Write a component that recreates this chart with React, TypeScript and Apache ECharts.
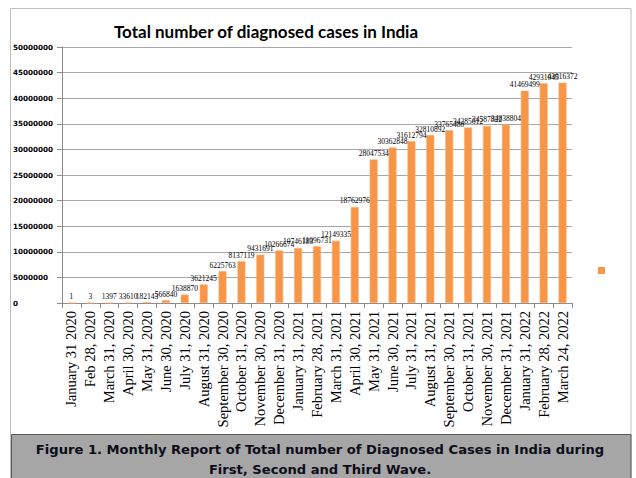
import React, { useEffect, useRef } from "react";
import * as echarts from "echarts";

const categories = [
  "January 31 2020", "Feb 28, 2020", "March 31, 2020", "April 30, 2020", "May 31, 2020",
  "June 30, 2020", "July 31, 2020", "August 31, 2020", "September 30, 2020", "October 31, 2020",
  "November 30, 2020", "December 31, 2020", "January 31, 2021", "February 28, 2021", "March 31, 2021",
  "April 30, 2021", "May 31, 2021", "June 30, 2021", "July 31, 2021", "August 31, 2021",
  "September 30, 2021", "October 31, 2021", "November 30, 2021", "December 31, 2021",
  "January 31, 2022", "February 28, 2022", "March 24, 2022",
];

const cases = [
  1, 3, 1397, 33610, 182143, 566840, 1638870, 3621245, 6225763, 8137119,
  9431691, 10266674, 10746183, 11096731, 12149335, 18762976, 28047534, 30362848,
  31612794, 32810892, 33765480, 34285612, 34587822, 34838804, 41469499, 42931045, 43016372,
];

const yMin = 0;
const yMax = 50000000;
const yStep = 5000000;

const titleText = "Total number of diagnosed cases in India";
const captionLines = [
  "Figure 1. Monthly Report of Total number of Diagnosed Cases in India during",
  "First, Second and Third Wave.",
];
const seriesName = "Total number of diagnosed cases";

export default function App() {
  const ref = useRef<HTMLDivElement>(null);
  useEffect(() => {
    if (!ref.current) return;
    const chart = echarts.init(ref.current, null, { renderer: "svg" });
    chart.setOption({
      animation: false,
      backgroundColor: "#ffffff",
      title: {
        text: titleText,
        left: 261,
        top: 18,
        textAlign: "center",
        textStyle: { fontFamily: "Lato", fontWeight: "bold", fontSize: 17, color: "#000" },
      },
      legend: {
        left: 593,
        top: 262,
        itemWidth: 7,
        itemHeight: 7,
        icon: "rect",
        itemGap: 0,
        formatter: () => " ",
        textStyle: { fontSize: 1 },
        itemStyle: { borderWidth: 0, color: "#f79646" },
        data: [seriesName],
      },
      grid: { left: 62, right: 64, top: 47, bottom: 175, containLabel: false },
      xAxis: {
        type: "category",
        data: categories,
        axisLine: { lineStyle: { color: "#8c8c8c", width: 1 } },
        axisTick: { show: true, length: 5, lineStyle: { color: "#8c8c8c" } },
        axisLabel: {
          rotate: 90,
          interval: 0,
          margin: 8,
          fontFamily: "Liberation Serif",
          fontSize: 14.5,
          color: "#000",
        },
      },
      yAxis: {
        type: "value",
        min: yMin,
        max: yMax,
        interval: yStep,
        axisLine: { show: true, lineStyle: { color: "#8c8c8c" } },
        axisTick: { show: true, length: 5, lineStyle: { color: "#8c8c8c" } },
        splitLine: { lineStyle: { color: "#a6a6a6", width: 1 } },
        axisLabel: {
          align: "left",
          margin: 49,
          fontFamily: "DejaVu Sans",
          fontWeight: "bold",
          fontSize: 7.2,
          color: "#000",
          formatter: (v: number) => String(v),
        },
      },
      series: [
        {
          name: seriesName,
          type: "bar",
          data: cases,
          barWidth: 8,
          itemStyle: { color: "#f79646", borderColor: "#fbb27a", borderWidth: 0.6 },
          label: {
            show: true,
            position: "top",
            distance: 2,
            fontFamily: "Liberation Serif",
            fontSize: 7.5,
            color: "#000",
          },
        },
      ],
      graphic: [
        {
          type: "rect",
          shape: { x: 10.5, y: 8.5, width: 620.5, height: 480 },
          style: { fill: "none", stroke: "#bfbfbf", lineWidth: 1 },
          z: -1,
        },
        {
          type: "rect",
          shape: { x: 11.5, y: 434.5, width: 619.5, height: 50 },
          style: { fill: "#a6a6a6", stroke: "#595959", lineWidth: 1 },
          z: 10,
        },
        {
          type: "text",
          x: 320,
          y: 449,
          z: 11,
          style: {
            text: captionLines[0],
            fontFamily: "DejaVu Sans",
            fontWeight: "bold",
            fontSize: 13.1,
            fill: "#0d0d1a",
            align: "center",
            verticalAlign: "middle",
          },
        },
        {
          type: "text",
          x: 320,
          y: 469.5,
          z: 11,
          style: {
            text: captionLines[1],
            fontFamily: "DejaVu Sans",
            fontWeight: "bold",
            fontSize: 13.1,
            fill: "#0d0d1a",
            align: "center",
            verticalAlign: "middle",
          },
        },
      ],
    });
    return () => chart.dispose();
  }, []);
  return (
    <div
      ref={ref}
      style={{ position: "fixed", left: 0, top: 0, width: 636, height: 478 }}
    />
  );
}
